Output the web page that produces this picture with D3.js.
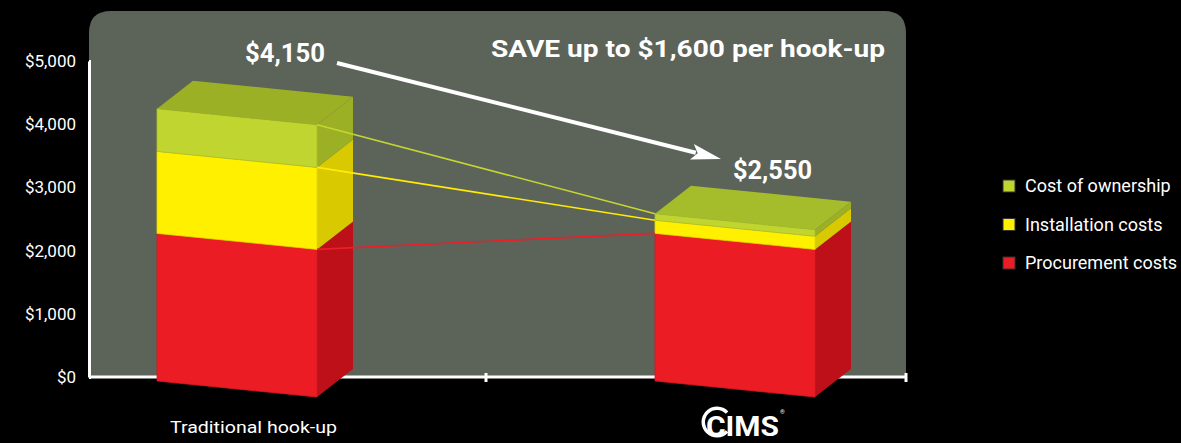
<!DOCTYPE html>
<html>
<head>
<meta charset="utf-8">
<script src="https://cdn.jsdelivr.net/npm/d3@7"></script>
<style>
  html, body { margin: 0; padding: 0; background: #000; }
  svg { display: block; }
  text { font-family: "Roboto", "DejaVu Sans", sans-serif; fill: #fff; }
</style>
</head>
<body>
<div id="chart"></div>
<script>
// datos
var categories = ["Traditional hook-up", "CIMS"];
var procurement = [2250, 2250];
var installation = [1250, 200];
var ownership = [650, 100];
var totalLabels = ["$4,150", "$2,550"];
var yTicks = [0, 1000, 2000, 3000, 4000, 5000];
var seriesNames = ["Procurement costs", "Installation costs", "Cost of ownership"];
var saveText = "SAVE up to $1,600 per hook-up";

// colores: frente, lado, arriba, linea
var colors = [
  {front: "#ec1c24", side: "#bd1019", top: "#d41820", line: "#e8202a"},
  {front: "#fff000", side: "#d8c900", top: "#e6d800", line: "#ffec00"},
  {front: "#c0d52f", side: "#9bb025", top: "#9cb026", line: "#c6d630"}
];

var W = 1181, H = 443;
var svg = d3.select("#chart").append("svg")
  .attr("width", W)
  .attr("height", H);

svg.append("rect").attr("width", W).attr("height", H).attr("fill", "#000");

// escalas
var y = d3.scaleLinear().domain([0, 5000]).range([377, 61]);
var h = d3.scaleLinear().domain([0, 5000]).range([0, 328]); // altura en perspectiva
var x = d3.scalePoint().domain(categories).range([157, 655]);
var barW = 160, dx = 36, dy = -28, skew = 16, base = 381;

var pLeft = 89, pRight = 906, pTop = 11, pR = 22;

// panel gris
svg.append("path")
  .attr("d", "M" + pLeft + "," + y(0) + "V" + (pTop + pR) +
    "Q" + pLeft + "," + pTop + " " + (pLeft + pR) + "," + pTop +
    "H" + (pRight - pR) + "Q" + pRight + "," + pTop + " " + pRight + "," + (pTop + pR) +
    "V" + y(0) + "Z")
  .attr("fill", "#5c6359");

// eje y
var yAxis = d3.axisLeft(y)
  .tickValues(yTicks)
  .tickSizeInner(5)
  .tickSizeOuter(0)
  .tickPadding(8)
  .tickFormat(function(d) { return "$" + d3.format(",")(d); });

var gy = svg.append("g")
  .attr("transform", "translate(" + pLeft + ",0)")
  .call(yAxis);
gy.select(".domain").attr("stroke", "#fff").attr("stroke-width", 3);
gy.selectAll(".tick line").attr("stroke", "#fff").attr("stroke-width", 3).attr("x2", 2);
gy.selectAll(".tick text")
  .attr("fill", "#fff")
  .style("font-size", "17px")
  .style("font-family", "Roboto, sans-serif");

// eje x
var midTick = (x(categories[0]) + x(categories[1]) + barW) / 2;
svg.append("line")
  .attr("x1", pLeft).attr("x2", pRight)
  .attr("y1", y(0)).attr("y2", y(0))
  .attr("stroke", "#fff").attr("stroke-width", 3);
[midTick, pRight].forEach(function(t) {
  svg.append("line")
    .attr("x1", t).attr("x2", t)
    .attr("y1", y(0) - 4).attr("y2", y(0) + 5)
    .attr("stroke", "#fff").attr("stroke-width", 3);
});

// barras 3d
var stacks = categories.map(function(c, i) {
  var vals = [procurement[i], installation[i], ownership[i]];
  var acc = 0;
  return vals.map(function(v, k) {
    var s = {cat: c, k: k, y0: acc, y1: acc + v};
    acc += v;
    return s;
  });
});

function pts(a) { return a.map(function(p) { return p.join(","); }).join(" "); }

stacks.forEach(function(stack) {
  var g = svg.append("g");
  stack.forEach(function(s, idx) {
    var xl = x(s.cat), xr = xl + barW;
    var bL = base - h(s.y0), bR = bL + skew;
    var tL = base - h(s.y1), tR = tL + skew;
    var col = colors[s.k];
    // lado
    g.append("polygon")
      .attr("points", pts([[xr, bR], [xr + dx, bR + dy], [xr + dx, tR + dy], [xr, tR]]))
      .attr("fill", col.side);
    // frente
    g.append("polygon")
      .attr("points", pts([[xl, bL], [xr, bR], [xr, tR], [xl, tL]]))
      .attr("fill", col.front)
      .attr("stroke", d3.color(col.front).darker(0.3))
      .attr("stroke-width", 0.8);
    // arriba
    if (idx == stack.length - 1) {
      g.append("polygon")
        .attr("points", pts([[xl, tL], [xl + dx, tL + dy], [xr + dx, tR + dy], [xr, tR]]))
        .attr("fill", s.cat == "CIMS" ? "#a6bd2b" : col.top);
    }
  });
});

// lineas entre barras
[0, 1, 2].forEach(function(k) {
  var a = stacks[0][k], b = stacks[1][k];
  svg.append("line")
    .attr("x1", x(a.cat) + barW).attr("y1", base - h(a.y1) + skew)
    .attr("x2", x(b.cat)).attr("y2", base - h(b.y1))
    .attr("stroke", colors[k].line)
    .attr("stroke-width", 1.6);
});

// etiquetas de total
svg.append("text")
  .attr("x", 245).attr("y", 62)
  .attr("textLength", 80).attr("lengthAdjust", "spacingAndGlyphs")
  .style("font-size", "26px").style("font-weight", "bold")
  .text(totalLabels[0]);
svg.append("text")
  .attr("x", 733).attr("y", 179)
  .attr("textLength", 79).attr("lengthAdjust", "spacingAndGlyphs")
  .style("font-size", "26px").style("font-weight", "bold")
  .text(totalLabels[1]);

// flecha
var ax0 = 337, ay0 = 63, ax1 = 721, ay1 = 159;
var ang = Math.atan2(ay1 - ay0, ax1 - ax0);
var aLen = 30, aW = 8;
var bx = ax1 - aLen * Math.cos(ang), by = ay1 - aLen * Math.sin(ang);
svg.append("line")
  .attr("x1", ax0).attr("y1", ay0)
  .attr("x2", bx + 4 * Math.cos(ang)).attr("y2", by + 4 * Math.sin(ang))
  .attr("stroke", "#fff").attr("stroke-width", 4);
svg.append("polygon")
  .attr("points", pts([
    [ax1, ay1],
    [bx - aW * Math.sin(ang), by + aW * Math.cos(ang)],
    [bx + 6 * Math.cos(ang), by + 6 * Math.sin(ang)],
    [bx + aW * Math.sin(ang), by - aW * Math.cos(ang)]
  ]))
  .attr("fill", "#fff");

// titulo
svg.append("text")
  .attr("x", 491).attr("y", 57)
  .attr("textLength", 394).attr("lengthAdjust", "spacingAndGlyphs")
  .style("font-size", "24px").style("font-weight", "bold")
  .text(saveText);

// leyenda
var legend = svg.append("g").attr("transform", "translate(1003,180)");
[2, 1, 0].forEach(function(k, i) {
  var row = legend.append("g").attr("transform", "translate(0," + (i * 38.5) + ")");
  row.append("rect")
    .attr("width", 12).attr("height", 12)
    .attr("fill", colors[k].front)
    .attr("stroke", "#333").attr("stroke-width", 1);
  row.append("text")
    .attr("x", 22).attr("y", 12)
    .style("font-size", "18px")
    .text(seriesNames[k]);
});

// etiquetas categorias
svg.append("text")
  .attr("x", 170).attr("y", 433)
  .attr("textLength", 167).attr("lengthAdjust", "spacingAndGlyphs")
  .style("font-size", "17px")
  .text(categories[0]);

// logo CIMS
var logo = svg.append("g").attr("transform", "translate(717,422)");
var arc = d3.arc();
logo.append("path")
  .attr("d", arc({innerRadius: 12, outerRadius: 15.5,
    startAngle: Math.PI / 2 + 0.75, endAngle: Math.PI * 2.5 - 0.75}))
  .attr("fill", "#fff");
logo.append("text")
  .attr("x", -11).attr("y", 14)
  .attr("textLength", 73).attr("lengthAdjust", "spacingAndGlyphs")
  .style("font-size", "27px").style("font-weight", "bold")
  .text(categories[1]);
logo.append("text")
  .attr("x", 63).attr("y", -8)
  .style("font-size", "6px")
  .text("\u00ae");
</script>
</body>
</html>
